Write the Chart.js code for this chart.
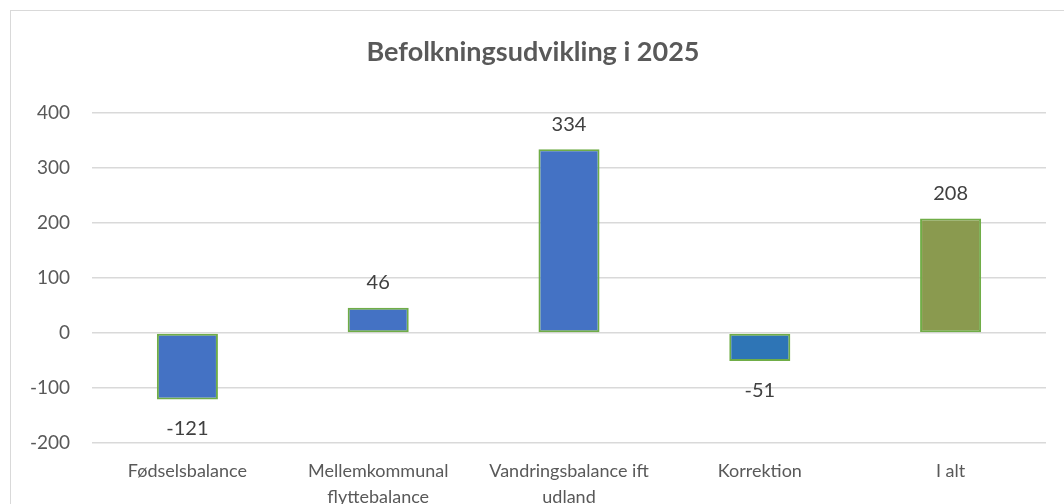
<!DOCTYPE html>
<html>
<head>
<meta charset="utf-8">
<script src="https://cdn.jsdelivr.net/npm/chart.js@4.4.1/dist/chart.umd.min.js"></script>
<style>
  html, body { margin: 0; padding: 0; background: #fff; overflow: hidden; }
  #frame { position: absolute; left: 10px; top: 10px; width: 1080px; height: 540px;
           border: 1px solid #d9d9d9; box-sizing: border-box; }
  #wrap { position: absolute; left: 0; top: 0; width: 1064px; height: 540px; }
</style>
</head>
<body>
<div id="frame"></div>
<div id="wrap"><canvas id="c"></canvas></div>
<script>
// Befolkningsudvikling i 2025 — one bar per component, last bar is the total.

const categories = [
  "Fødselsbalance",
  ["Mellemkommunal", "flyttebalance"],
  ["Vandringsbalance ift", "udland"],
  "Korrektion",
  "I alt",
];
const values = [-121, 46, 334, -51, 208];
const barColors = ["#4472C4", "#4472C4", "#4472C4", "#2E75B6", "#8A9A4F"];
const yTicks = { min: -200, max: 400, step: 100 };

const FONT = "Lato, 'Open Sans', sans-serif";
const GREY = "#595959";

// Value labels: above positive bars, below negative ones.
const valueLabels = {
  id: "valueLabels",
  afterDatasetsDraw(chart) {
    const { ctx } = chart;
    const meta = chart.getDatasetMeta(0);
    ctx.save();
    ctx.font = `20px ${FONT}`;
    ctx.fillStyle = "#404040";
    ctx.textAlign = "center";
    ctx.textBaseline = "middle";
    meta.data.forEach((bar, i) => {
      const v = values[i];
      const y = v >= 0 ? bar.y - 25 : bar.y + 29;
      ctx.fillText(String(v), bar.x, y);
    });
    ctx.restore();
  },
};

new Chart(document.getElementById("c"), {
  type: "bar",
  data: {
    labels: categories,
    datasets: [{
      data: values,
      backgroundColor: barColors,
      borderColor: "#70AD47",
      borderWidth: 2,
      borderSkipped: false,
      categoryPercentage: 1,
      barPercentage: 0.32,
    }],
  },
  options: {
    responsive: true, maintainAspectRatio: false,
    animation: false,
    layout: { padding: { left: 20, right: 18, top: 0, bottom: 0 } },
    scales: {
      x: {
        grid: { display: false },
        border: { display: false },
        ticks: {
          color: GREY, font: { family: FONT, size: 18, lineHeight: 1.4 },
          padding: 8, maxRotation: 0, autoSkip: false,
        },
        afterFit: (s) => { s.height = 97; },
      },
      y: {
        min: yTicks.min, max: yTicks.max,
        grid: { color: "#d9d9d9", lineWidth: 1.5, drawTicks: false },
        border: { display: false },
        ticks: { stepSize: yTicks.step, color: GREY, font: { family: FONT, size: 19 }, padding: 22 },
        afterFit: (s) => { s.width = 72; },
      },
    },
    plugins: {
      legend: { display: false },
      tooltip: { enabled: false },
      title: {
        display: true,
        text: "Befolkningsudvikling i 2025",
        color: GREY,
        font: { family: FONT, size: 27, weight: "bold", lineHeight: 1.2 },
        padding: { top: 36, bottom: 44.6 },
      },
    },
  },
  plugins: [valueLabels],
});
</script>
</body>
</html>
